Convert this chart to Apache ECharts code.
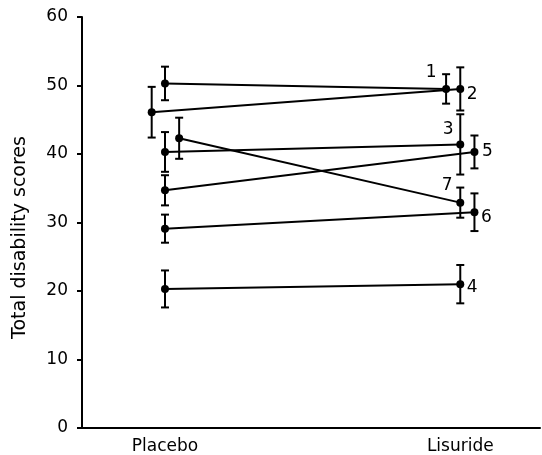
<!DOCTYPE html>
<html>
<head>
<meta charset="utf-8">
<script src="https://cdn.jsdelivr.net/npm/echarts@6/dist/echarts.min.js"></script>
<style>
html,body{margin:0;padding:0;background:#fff;}
#chart{width:542px;height:455px;}
</style>
</head>
<body>
<div id="chart"></div>
<script>
// ---- data ----
const categories = ['Placebo', 'Lisuride'];
const categoryValues = [1, 2];
const patients = ['1', '2', '3', '4', '5', '6', '7'];
const placeboX = [1, 0.955, 1, 1, 1, 1, 1.048];
const placeboMean = [50.3, 46.1, 40.3, 20.3, 34.7, 29.1, 42.3];
const placeboErr = [2.45, 3.7, 2.9, 2.7, 2.2, 2.05, 3.0];
const lisurideX = [1.952, 2, 2, 2, 2.048, 2.048, 2];
const lisurideMean = [49.5, 49.5, 41.4, 21.0, 40.3, 31.5, 32.9];
const lisurideErr = [2.15, 3.15, 4.4, 2.8, 2.4, 2.75, 2.2];
const yTicks = [0, 10, 20, 30, 40, 50, 60];

// ---- styling / placement ----
const INK = '#000';
const FONT = 'DejaVu Sans';
const labelOffsets = {
  '1': [-15, -16], '2': [12, 6], '3': [-12, -15], '4': [12, 3],
  '5': [13, 0], '6': [12, 5], '7': [-13, -17]
};

const series = [];
patients.forEach((p, i) => {
  series.push({
    type: 'line',
    name: 'Patient ' + p,
    data: [
      { value: [placeboX[i], placeboMean[i]] },
      { value: [lisurideX[i], lisurideMean[i]],
        label: {
          show: true, formatter: p, position: 'inside',
          offset: labelOffsets[p], color: INK, fontSize: 17, fontFamily: FONT
        } }
    ],
    symbol: 'circle', symbolSize: 8,
    lineStyle: { color: INK, width: 2 },
    itemStyle: { color: INK },
    label: { show: false },
    emphasis: { disabled: true },
    z: 3
  });
});

const errData = [];
patients.forEach((p, i) => {
  errData.push([placeboX[i], placeboMean[i] - placeboErr[i], placeboMean[i] + placeboErr[i]]);
  errData.push([lisurideX[i], lisurideMean[i] - lisurideErr[i], lisurideMean[i] + lisurideErr[i]]);
});

series.push({
  type: 'custom',
  name: 'errors',
  data: errData,
  encode: { x: 0, y: [1, 2] },
  z: 2,
  renderItem: function (params, api) {
    const x = api.value(0);
    const lo = api.coord([x, api.value(1)]);
    const hi = api.coord([x, api.value(2)]);
    const w = 4;
    const st = { stroke: INK, lineWidth: 2 };
    return {
      type: 'group',
      children: [
        { type: 'line', shape: { x1: lo[0], y1: lo[1], x2: hi[0], y2: hi[1] }, style: st },
        { type: 'line', shape: { x1: lo[0] - w, y1: lo[1], x2: lo[0] + w, y2: lo[1] }, style: st },
        { type: 'line', shape: { x1: hi[0] - w, y1: hi[1], x2: hi[0] + w, y2: hi[1] }, style: st }
      ]
    };
  }
});

const chart = echarts.init(document.getElementById('chart'), null, { renderer: 'canvas' });
chart.setOption({
  animation: false,
  backgroundColor: '#fff',
  grid: { left: 82, right: 2, top: 17, bottom: 24, containLabel: false },
  xAxis: {
    type: 'value',
    min: 0.719, max: 2.27,
    axisLine: { show: true, onZero: false, lineStyle: { color: INK, width: 2 } },
    axisTick: { show: false },
    splitLine: { show: false },
    axisLabel: {
      customValues: categoryValues,
      formatter: function (v) { const k = categoryValues.indexOf(v); return k >= 0 ? categories[k] : ''; },
      color: INK, fontSize: 17, fontFamily: FONT, margin: 10
    }
  },
  yAxis: {
    type: 'value',
    min: 0, max: 60, interval: 10,
    name: 'Total disability scores',
    nameLocation: 'middle',
    nameGap: 52,
    nameTextStyle: { color: INK, fontSize: 19, fontFamily: FONT, padding: [0, 30, 0, 0] },
    axisLine: { show: true, lineStyle: { color: INK, width: 2 } },
    axisTick: { show: true, length: 5, lineStyle: { color: INK, width: 2 } },
    splitLine: { show: false },
    axisLabel: {
      customValues: yTicks,
      color: INK, fontSize: 17, fontFamily: FONT, margin: 14
    }
  },
  series: series
});
</script>
</body>
</html>
